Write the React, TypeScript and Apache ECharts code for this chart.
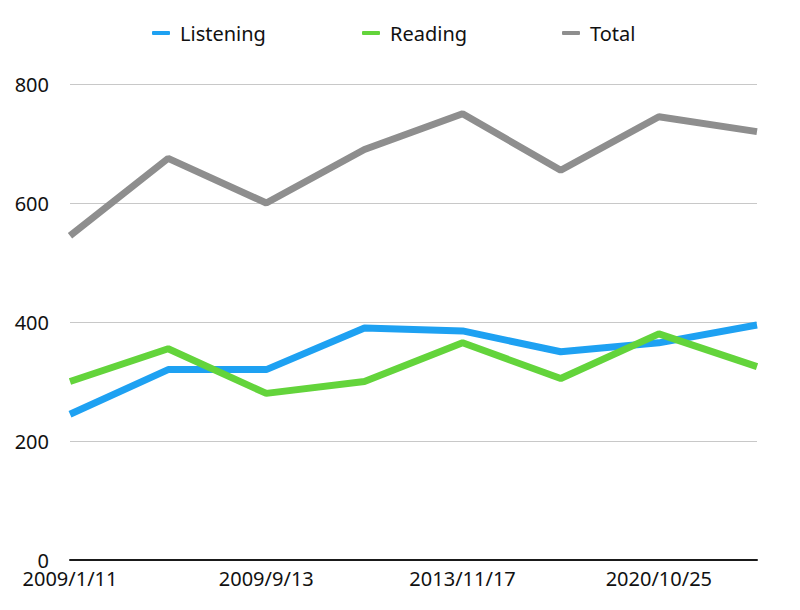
import React, { useEffect, useRef } from "react";
import * as echarts from "echarts";

const categories = [
  "2009/1/11",
  "2009/5/31",
  "2009/9/13",
  "2011/6/26",
  "2013/11/17",
  "2016/5/29",
  "2020/10/25",
  "2021/5/30",
];
const listening = [245, 320, 320, 390, 385, 350, 365, 395];
const reading = [300, 355, 280, 300, 365, 305, 380, 325];
const total = [545, 675, 600, 690, 750, 655, 745, 720];
const seriesNames = ["Listening", "Reading", "Total"];
const colors = ["#1ea1f2", "#63d43b", "#8e8e8e"];
const legendLefts = [147, 357, 557];

const FONT = "'Noto Sans', sans-serif";

export default function App() {
  const ref = useRef<HTMLDivElement>(null);
  useEffect(() => {
    if (!ref.current) return;
    const chart = echarts.init(ref.current, undefined, { renderer: "svg" });
    const dataSets = [listening, reading, total];
    chart.setOption({
      animation: false,
      textStyle: { fontFamily: FONT },
      legend: seriesNames.map((n, i) => ({
        data: [n],
        left: legendLefts[i],
        top: 18,
        icon: "roundRect",
        itemWidth: 18,
        itemHeight: 4,
        textStyle: { fontSize: 20, color: "#111", fontFamily: FONT, padding: [0, 0, 0, 5] },
      })),
      grid: {
        left: 70,
        right: 43,
        top: 84,
        bottom: 50,
        containLabel: false,
        outerBoundsMode: "none",
      },
      xAxis: {
        type: "category",
        data: categories,
        boundaryGap: false,
        axisLine: { show: true, lineStyle: { color: "#1a1a1a", width: 2 } },
        axisTick: { show: false },
        axisLabel: {
          interval: 1,
          fontSize: 20,
          color: "#111",
          margin: 8,
          fontFamily: FONT,
        },
        splitLine: { show: false },
      },
      yAxis: {
        type: "value",
        min: 0,
        max: 800,
        interval: 200,
        axisLine: { show: false },
        axisTick: { show: false },
        axisLabel: { fontSize: 20, color: "#111", margin: 21, fontFamily: FONT },
        splitLine: { lineStyle: { color: "#c8c8c8", width: 1 } },
      },
      series: seriesNames.map((n, i) => ({
        name: n,
        type: "line",
        data: dataSets[i],
        symbol: "none",
        smooth: false,
        color: colors[i],
        lineStyle: { width: 7, color: colors[i] },
      })),
    });
    return () => chart.dispose();
  }, []);
  return (
    <div
      ref={ref}
      style={{ position: "absolute", left: 0, top: 0, width: 800, height: 610, background: "#fff" }}
    />
  );
}
